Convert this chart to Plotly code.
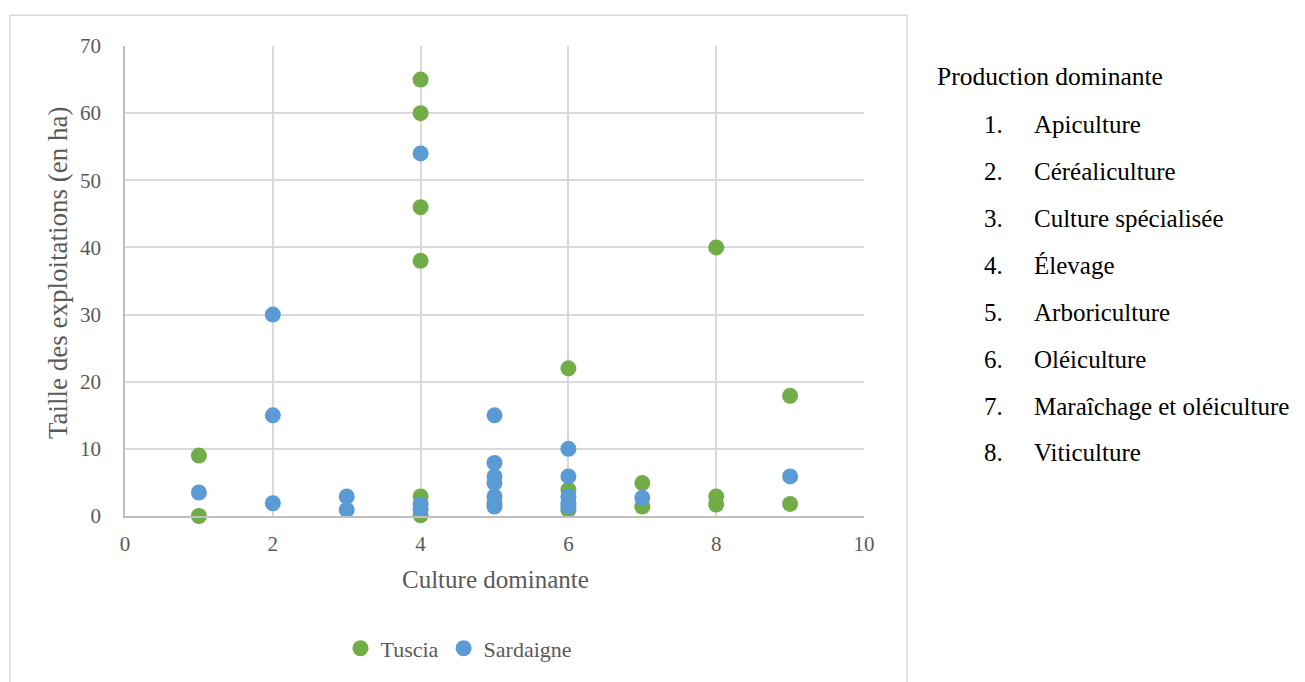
import plotly.graph_objects as go

tuscia_x = [1, 1, 3, 4, 4, 4, 4, 4, 4, 6, 6, 6, 7, 7, 8, 8, 8, 9, 9]
tuscia_y = [9, 0, -0.1, 65, 60, 46, 38, 2.9, 0.1, 22, 3.9, 0.9, 4.9, 1.4, 40, 2.9, 1.7, 17.9, 1.8]

sard_x = [1, 2, 2, 2, 3, 3, 4, 4, 4, 5, 5, 5, 5, 5, 5, 5, 6, 6, 6, 6, 6, 7, 9]
sard_y = [3.5, 30, 15, 1.9, 2.9, 0.9, 54, 1.7, 0.9, 15, 7.9, 5.9, 4.9, 2.9, 1.9, 1.4, 10, 5.9, 2.9, 1.9, 1.4, 2.7, 5.9]

legend_items = ["Apiculture", "Céréaliculture", "Culture spécialisée", "Élevage",
                "Arboriculture", "Oléiculture", "Maraîchage et oléiculture", "Viticulture"]

FONT = "Liberation Serif"
GRAY = "#595959"
OFF = 8  # page body margin

fig = go.Figure()
fig.add_trace(go.Scatter(x=tuscia_x, y=tuscia_y, mode="markers", name="Tuscia", cliponaxis=False,
                         marker=dict(color="#70ad47", size=16)))
fig.add_trace(go.Scatter(x=sard_x, y=sard_y, mode="markers", name="Sardaigne", cliponaxis=False,
                         marker=dict(color="#5b9bd5", size=16)))

L, R, T, B = 125 - OFF, 864 - OFF, 46 - OFF, 518 - OFF
W, H = 1305 - OFF, 682 - OFF
pw, ph = R - L, B - T

def px(x):
    return (x - OFF - L) / pw

def py(y):
    return (B - (y - OFF)) / ph

fig.update_layout(
    width=W, height=H,
    margin=dict(l=L, r=W - R, t=T, b=H - B),
    paper_bgcolor="white", plot_bgcolor="white",
    font=dict(family=FONT, color=GRAY, size=22),
    showlegend=True,
    legend=dict(orientation="h", x=px(459), xanchor="center", y=py(651), yanchor="middle",
                font=dict(family=FONT, size=22, color=GRAY), itemwidth=30,
                tracegroupgap=0),
    xaxis=dict(range=[0, 10], dtick=2, showgrid=True, gridcolor="#d9d9d9", gridwidth=1.5,
               zeroline=False, showline=True, linecolor="#bfbfbf", linewidth=1.5,
               ticks="", ticklabelstandoff=8, tickfont=dict(family=FONT, size=21, color=GRAY)),
    yaxis=dict(range=[0, 70], dtick=10, showgrid=True, gridcolor="#d9d9d9", gridwidth=1.5,
               zeroline=False, showline=True, linecolor="#bfbfbf", linewidth=1.5,
               ticks="", ticklabelstandoff=18, tickfont=dict(family=FONT, size=21, color=GRAY)),
)

# axis titles
fig.add_annotation(xref="paper", yref="paper", x=px(495), y=py(582), xanchor="center", yanchor="middle",
                   text="Culture dominante", showarrow=False,
                   font=dict(family=FONT, size=25, color=GRAY))
fig.add_annotation(xref="paper", yref="paper", x=px(58), y=py(274), xanchor="center", yanchor="middle",
                   text="Taille des exploitations (en ha)", showarrow=False, textangle=-90,
                   font=dict(family=FONT, size=27, color=GRAY))

# chart frame
fig.add_shape(type="rect", xref="paper", yref="paper",
              x0=px(10), x1=px(907), y0=py(700), y1=py(15),
              line=dict(color="#d9d9d9", width=1.5), fillcolor="rgba(0,0,0,0)", layer="below")

# side text
fig.add_annotation(xref="paper", yref="paper", x=px(935), y=py(77), xanchor="left", yanchor="middle",
                   text="Production dominante", showarrow=False,
                   font=dict(family=FONT, size=25.5, color="black"))
for i, item in enumerate(legend_items):
    yy = 125 + i * 47.1
    fig.add_annotation(xref="paper", yref="paper", x=px(982), y=py(yy), xanchor="left", yanchor="middle",
                       text=f"{i + 1}.", showarrow=False,
                       font=dict(family=FONT, size=25, color="black"))
    fig.add_annotation(xref="paper", yref="paper", x=px(1032), y=py(yy), xanchor="left", yanchor="middle",
                       text=item, showarrow=False,
                       font=dict(family=FONT, size=25, color="black"))

fig.write_html("out.html")
